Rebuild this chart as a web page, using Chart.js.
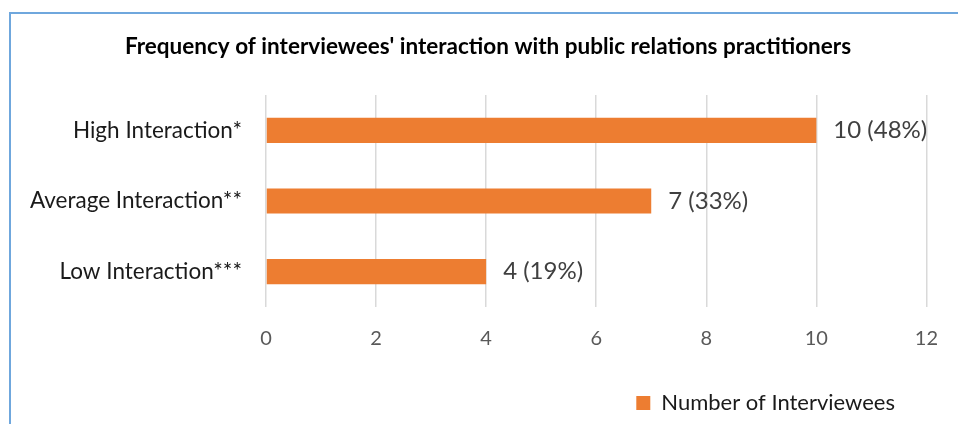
<!DOCTYPE html>
<html>
<head>
<meta charset="utf-8">
<script src="https://cdn.jsdelivr.net/npm/chart.js@4"></script>
<style>
  html, body { margin: 0; padding: 0; background: #fff; }
  .wrap { position: relative; width: 958px; height: 424px; overflow: hidden; }
  .frame {
    position: absolute; left: 9px; top: 12px; right: -4px; bottom: -4px;
    border-left: 2px solid #6fa7dd; border-top: 2px solid #6fa7dd;
  }
  canvas { position: absolute; left: 0; top: 0; }
</style>
</head>
<body>
<div class="wrap">
  <div class="frame"></div>
  <canvas id="interactionChart" width="958" height="424"></canvas>
</div>
<script>
const categories = ["High Interaction*", "Average Interaction**", "Low Interaction***"];
const interviewees = [10, 7, 4];
const shares = [48, 33, 19];
const xTicks = [0, 2, 4, 6, 8, 10, 12];

const orange = "#ED7D31";

// writes "n (p%)" just past the end of each bar
const barValueLabels = {
  id: "barValueLabels",
  afterDatasetsDraw(chart) {
    const ctx = chart.ctx;
    const meta = chart.getDatasetMeta(0);
    ctx.save();
    ctx.font = "24px Lato";
    ctx.fillStyle = "#404040";
    ctx.textAlign = "left";
    ctx.textBaseline = "middle";
    meta.data.forEach((bar, i) => {
      ctx.fillText(interviewees[i] + " (" + shares[i] + "%)", bar.x + 17, bar.y);
    });
    ctx.restore();
  },
};

// nudge the title box so it is centred a bit further right
const titleOffset = {
  id: "titleOffset",
  afterLayout(chart) {
    if (chart.titleBlock) chart.titleBlock.left += 47;
  },
};

const data = {
  labels: categories,
  datasets: [
    {
      label: "Number of Interviewees",
      data: interviewees,
      backgroundColor: orange,
      borderWidth: 0,
      categoryPercentage: 0.355,
      barPercentage: 1,
    },
  ],
};

const config = {
  type: "bar",
  data: data,
  options: {
    indexAxis: "y",
    responsive: false,
    animation: false,
    layout: {
      padding: { top: 0, right: 29, bottom: 0, left: 0 },
    },
    scales: {
      x: {
        min: xTicks[0],
        max: xTicks[xTicks.length - 1],
        afterBuildTicks: (scale) => {
          scale.ticks = xTicks.map((v) => ({ value: v }));
        },
        afterFit: (scale) => {
          scale.height = 51;
        },
        grid: {
          color: "#d9d9d9",
          lineWidth: 1.5,
          drawTicks: false,
        },
        border: { display: false },
        ticks: {
          padding: 20,
          color: "#595959",
          font: { family: "Lato", size: 20 },
        },
      },
      y: {
        afterFit: (scale) => {
          scale.width = 266;
        },
        grid: { display: false, drawTicks: false },
        border: { display: false },
        ticks: {
          padding: 24,
          color: "#1a1a1a",
          font: { family: "Lato", size: 22.5 },
        },
      },
    },
    plugins: {
      title: {
        display: true,
        text: "Frequency of interviewees' interaction with public relations practitioners",
        color: "#000000",
        font: { family: "Lato", size: 22.5, weight: "bold" },
        padding: { top: 33.5, bottom: 34.5 },
      },
      legend: {
        position: "bottom",
        align: "end",
        labels: {
          boxWidth: 14,
          boxHeight: 14,
          padding: 34,
          color: "#1a1a1a",
          font: { family: "Lato", size: 22 },
        },
      },
      tooltip: { enabled: false },
    },
  },
  plugins: [barValueLabels, titleOffset],
};

const interactionChart = new Chart(document.getElementById("interactionChart"), config);
</script>
</body>
</html>
